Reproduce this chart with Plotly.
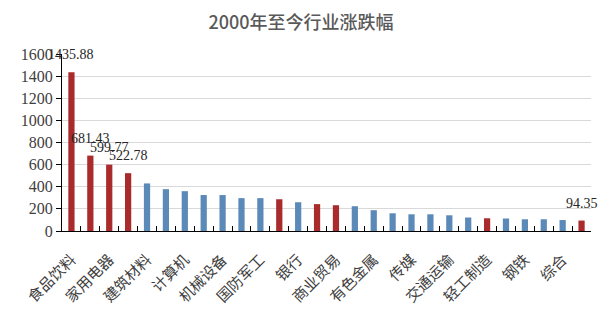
import plotly.graph_objects as go

categories = ["食品饮料", "医药生物", "家用电器", "休闲服务", "建筑材料", "电子", "计算机", "汽车",
              "机械设备", "化工", "国防军工", "房地产", "银行", "非银金融", "商业贸易", "电气设备",
              "有色金属", "建筑装饰", "传媒", "通信", "交通运输", "公用事业", "轻工制造", "农林牧渔",
              "钢铁", "纺织服装", "综合", "采掘"]
values = [1435.88, 681.43, 599.77, 522.78, 430, 378, 360, 325,
          325, 297, 297, 287, 260, 243, 233, 224,
          188, 160, 151, 151, 142, 122, 115, 113,
          106, 106, 99, 94.35]
highlight = [True, True, True, True, False, False, False, False,
             False, False, False, True, False, True, True, False,
             False, False, False, False, False, False, True, False,
             False, False, False, True]
labelled = [0, 1, 2, 3, 27]
y_ticks = [0, 200, 400, 600, 800, 1000, 1200, 1400, 1600]

RED = "#A92B2B"
BLUE = "#5B89B8"

colors = [RED if h else BLUE for h in highlight]
ticktext = [c if i % 2 == 0 else "" for i, c in enumerate(categories)]

fig = go.Figure(go.Bar(x=categories, y=values, marker=dict(color=colors, line=dict(width=0)),
                       width=0.33, hoverinfo="skip"))

for i in labelled:
    fig.add_annotation(x=categories[i], y=values[i], text=f"{values[i]:.2f}", showarrow=False,
                       yanchor="bottom", xanchor="center", yshift=8,
                       font=dict(family="Liberation Serif", size=14, color="#262626"))

fig.update_layout(
    width=612, height=323,
    margin=dict(l=62, r=21, t=54, b=92),
    paper_bgcolor="white", plot_bgcolor="white",
    showlegend=False,
    title=dict(text="2000年至今行业涨跌幅", x=0.492, xanchor="center", y=1 - 23 / 323, yanchor="middle",
               xref="container", yref="container",
               font=dict(family="Noto Sans CJK SC", size=18, color="#595959", weight=500)),
    xaxis=dict(type="category", categoryorder="array", categoryarray=categories,
               tickmode="array", tickvals=categories, ticktext=ticktext,
               tickson="boundaries", ticks="inside", ticklen=5, tickcolor="black", tickwidth=1,
               tickangle=-45, ticklabelstandoff=13,
               tickfont=dict(family="Noto Sans CJK SC", size=15, color="#404040"),
               showline=True, linecolor="black", linewidth=1, showgrid=False, zeroline=False,
               range=[-0.5, 27.5]),
    yaxis=dict(range=[0, 1600], tickmode="array", tickvals=y_ticks,
               ticks="outside", ticklen=5, tickcolor="black", ticklabelstandoff=0,
               tickfont=dict(family="Liberation Serif", size=16, color="#404040"),
               showline=True, linecolor="black", linewidth=1,
               showgrid=True, gridcolor="#D9D9D9", gridwidth=1, zeroline=False),
)

fig.write_html("out.html")
